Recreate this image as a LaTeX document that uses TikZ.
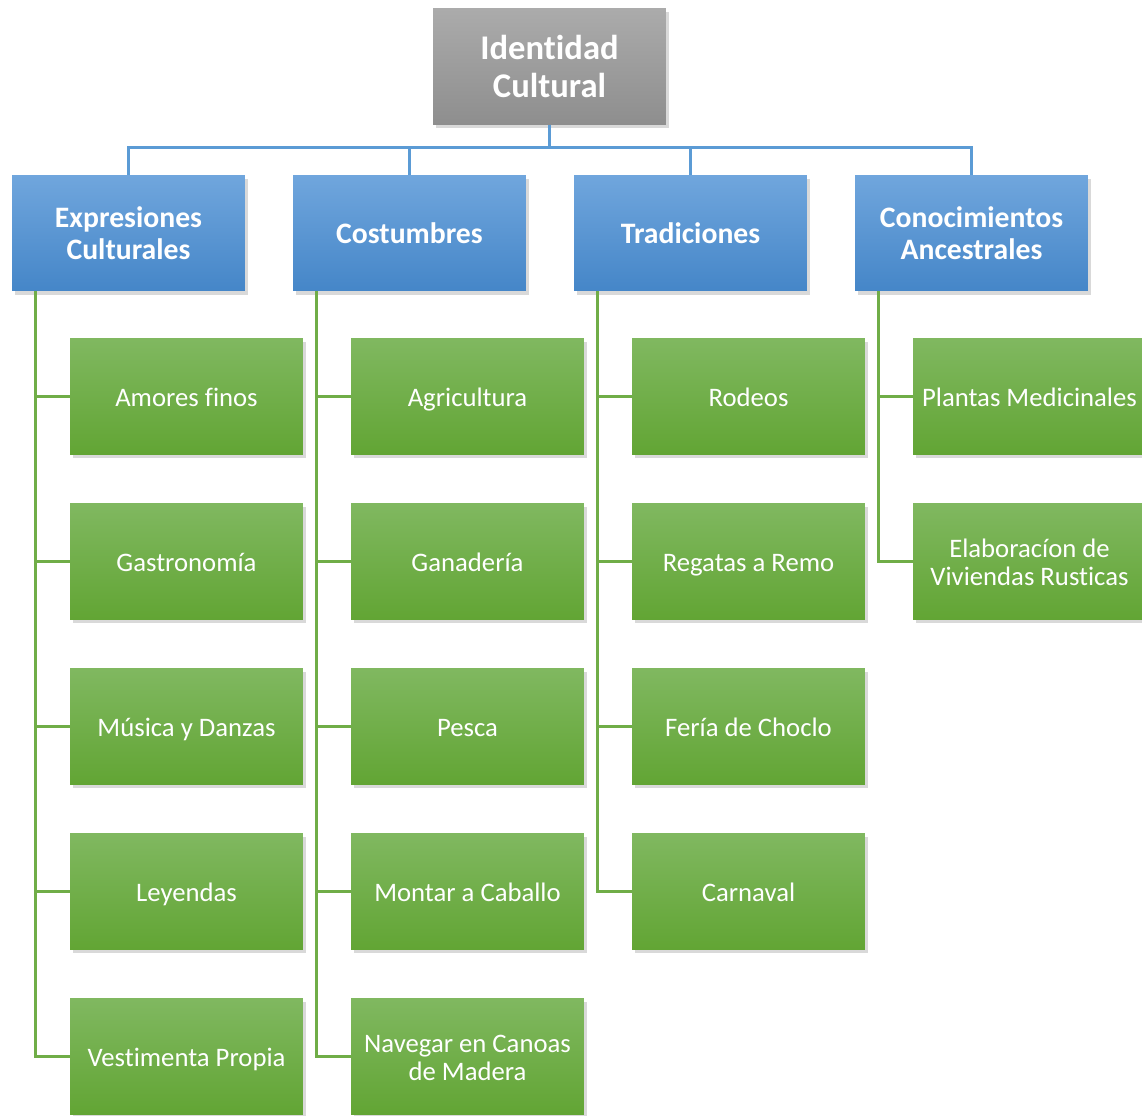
\documentclass[tikz,border=0pt]{standalone}
\usepackage{fontspec}
\setmainfont{Carlito}[Ligatures=NoCommon]
\usetikzlibrary{shadows}
\definecolor{grayTop}{HTML}{ABABAB}
\definecolor{grayBot}{HTML}{8E8E8E}
\definecolor{blueTop}{HTML}{70A6DD}
\definecolor{blueBot}{HTML}{4586C8}
\definecolor{greenTop}{HTML}{80B860}
\definecolor{greenBot}{HTML}{62A534}
\definecolor{linkBlue}{HTML}{5B9BD5}
\definecolor{linkGreen}{HTML}{70AD47}

\begin{document}
\begin{tikzpicture}[x=0.02cm,y=-0.02cm,
        box/.style={
          minimum width=4.66cm, minimum height=2.32cm,
          align=center, text=white, inner sep=2pt,
          drop shadow={opacity=0.3, shadow xshift=1.5pt, shadow yshift=-2pt},
        },
        topbox/.style={box, top color=grayTop, bottom color=grayBot,
          font=\bfseries\fontsize{19.7}{21.5}\selectfont, yshift=1pt},
        catbox/.style={box, top color=blueTop, bottom color=blueBot,
          font=\bfseries\fontsize{16.9}{18}\selectfont},
        itembox/.style={box, top color=greenTop, bottom color=greenBot,
          font=\fontsize{15.2}{16.4}\selectfont, text height=11.4pt, text depth=0pt},
        twolines/.style={text height=27.8pt},
        bluelink/.style={draw=linkBlue, line width=1.7pt},
        greenlink/.style={draw=linkGreen, line width=1.7pt},
      ]
      \useasboundingbox (0,0) rectangle (1142,1115);
      \node[topbox] (id) at (549.5,68) {Identidad\\Cultural};
      \node[catbox] (expr) at (128.5,233) {Expresiones\\Culturales};
      \node[catbox] (cost) at (409.5,233) {Costumbres};
      \node[catbox] (trad) at (690.5,233) {Tradiciones};
      \node[catbox] (cono) at (971.5,233) {Conocimientos\\Ancestrales};
      \foreach \cat in {expr,cost,trad,cono}
        \draw[bluelink] (id.south) -- ++(0,23) -| (\cat.north);
      % green items under each category
      \foreach \txt [count=\i] in {Amores finos, Gastronomía, Música y Danzas, Leyendas, Vestimenta Propia}
        \node[itembox] (expr-\i) at (186.5,{396.5+165*(\i-1)}) {\txt};
      \foreach \txt [count=\i] in {Agricultura, Ganadería, Pesca, Montar a Caballo}
        \node[itembox] (cost-\i) at (467.5,{396.5+165*(\i-1)}) {\txt};
      \node[itembox, twolines] (cost-5) at (467.5,1056.5) {Navegar en Canoas\\de Madera};
      \foreach \txt [count=\i] in {Rodeos, Regatas a Remo, Fería de Choclo, Carnaval}
        \node[itembox] (trad-\i) at (748.5,{396.5+165*(\i-1)}) {\txt};
      \node[itembox] (cono-1) at (1029.5,396.5) {Plantas Medicinales};
      \node[itembox, twolines] (cono-2) at (1029.5,561.5) {Elaboracíon de\\Viviendas Rusticas};
      \foreach \i in {1,...,5} {
        \draw[greenlink] ([xshift=0.48cm]expr.south west) |- (expr-\i.west);
        \draw[greenlink] ([xshift=0.48cm]cost.south west) |- (cost-\i.west);
      }
      \foreach \i in {1,...,4}
        \draw[greenlink] ([xshift=0.48cm]trad.south west) |- (trad-\i.west);
      \foreach \i in {1,2}
        \draw[greenlink] ([xshift=0.48cm]cono.south west) |- (cono-\i.west);
    \end{tikzpicture}
\end{document}
